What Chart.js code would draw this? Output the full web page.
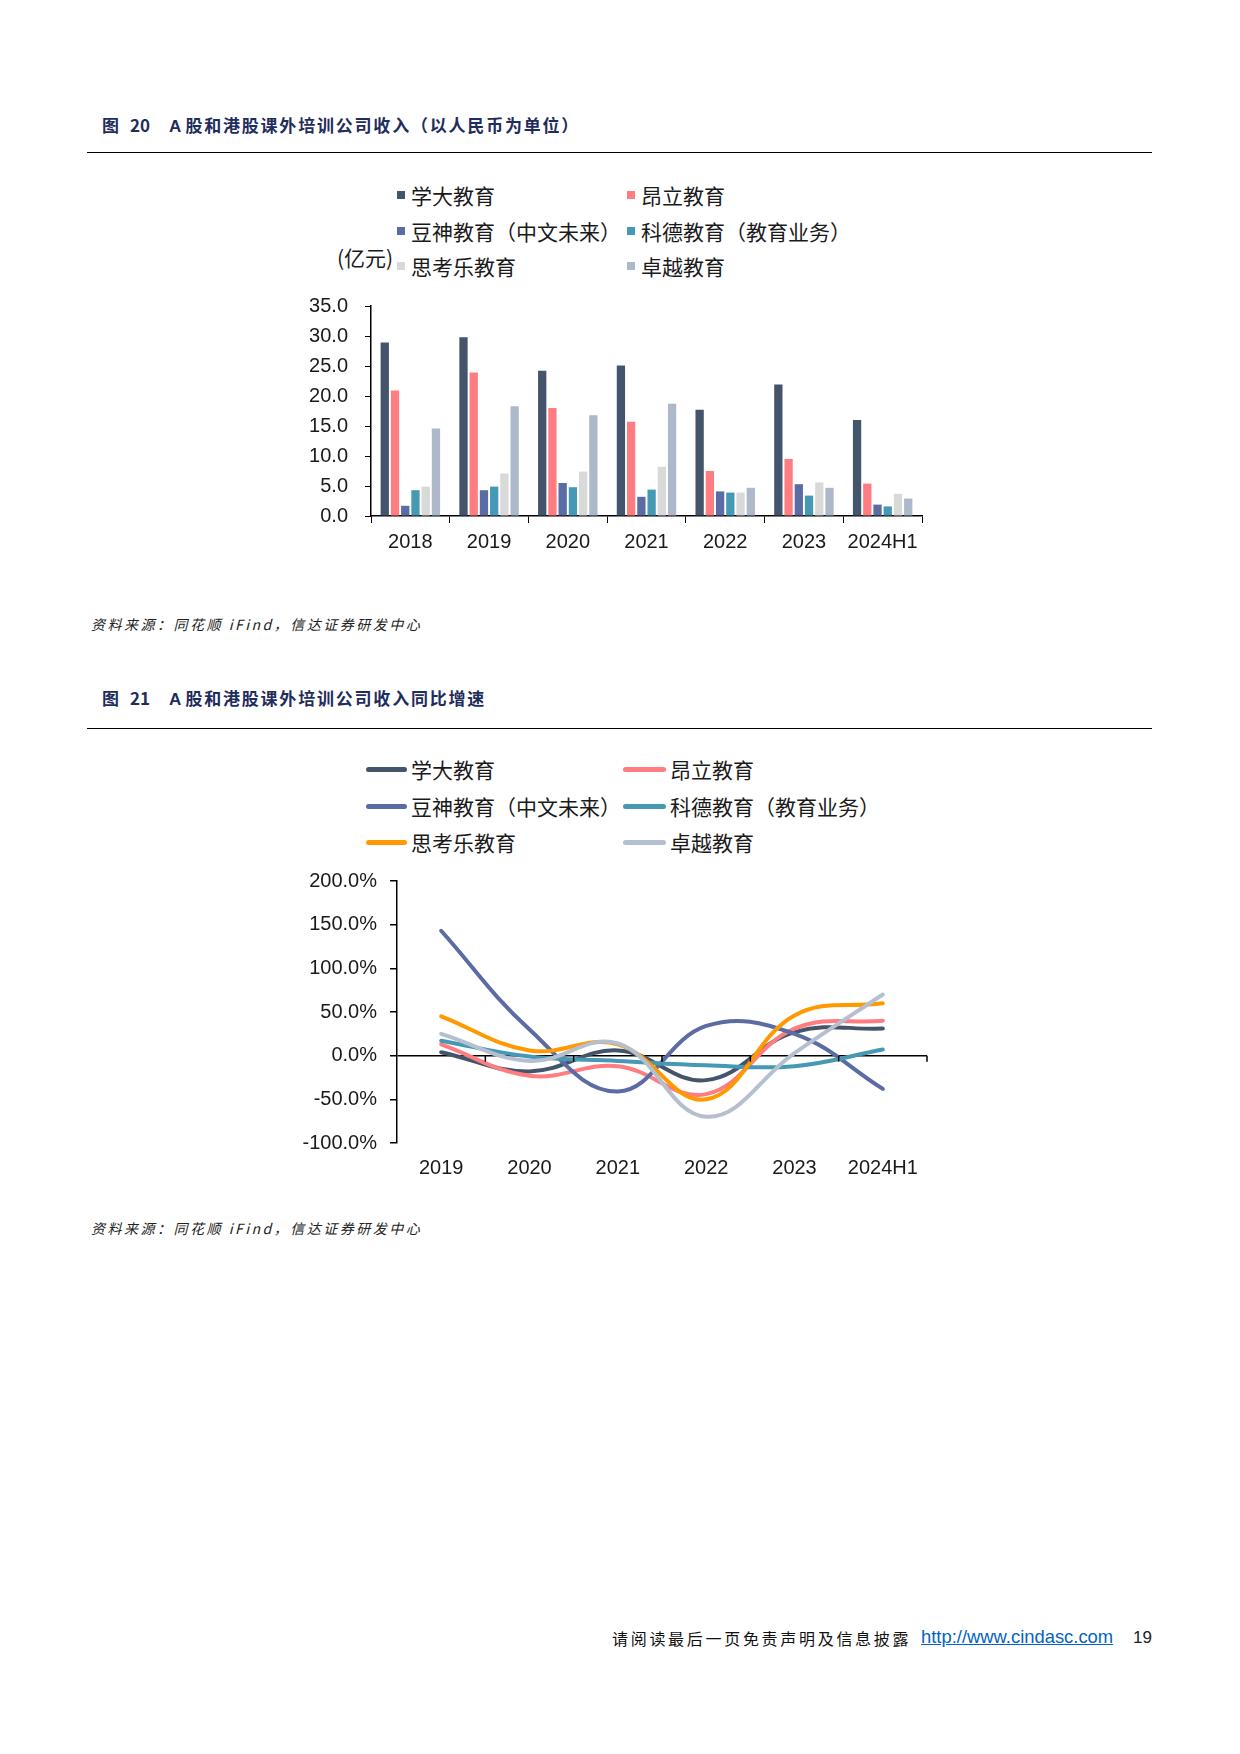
<!DOCTYPE html>
<html>
<head>
<meta charset="utf-8">
<script src="https://cdn.jsdelivr.net/npm/chart.js@4.4.1/dist/chart.umd.min.js"></script>
<style>
  body { margin: 0; background: #fff; }
  #page { position: relative; width: 1240px; height: 1754px; font-family: "Noto Sans CJK SC", sans-serif; color: #1a1a1a; }
  .t { position: absolute; font-weight: 700; color: #1f2d5c; font-size: 17px; line-height: 22px; }
  .t .num { font-family: "Liberation Sans", Arial, sans-serif; }
  .t .cjk { letter-spacing: 1.8px; }
  .rule { position: absolute; left: 87px; width: 1065px; height: 1px; background: #000; }
  .src { position: absolute; left: 91px; font-size: 14px; font-style: italic; letter-spacing: 2.5px; color: #222; line-height: 20px; }
  .leg { position: absolute; font-size: 21px; line-height: 24px; white-space: nowrap; transform: translateY(-50%); }
  .sq { position: absolute; width: 8px; height: 8px; }
  .ln { position: absolute; height: 5px; border-radius: 3px; }
  .box { position: absolute; }
  #foot { position: absolute; top: 1627px; left: 612px; font-size: 16px; letter-spacing: 2.7px; color: #111; line-height: 22px; }
  #link { position: absolute; top: 1626px; left: 921px; font-family: "Liberation Sans", Arial, sans-serif; font-size: 18.4px; color: #0563c1; text-decoration: underline; line-height: 22px; }
  #pno { position: absolute; top: 1627px; left: 1133px; font-family: "Liberation Sans", Arial, sans-serif; font-size: 17px; color: #222; line-height: 22px; }
</style>
</head>
<body>
<div id="page">
  <div class="t" style="top:114px;left:102px">图</div>
  <div class="t num" style="top:114px;left:130px">20</div>
  <div class="t" style="top:114px;left:169px"><span class="num">A </span><span class="cjk">股和港股课外培训公司收入（以人民币为单位）</span></div>
  <div class="rule" style="top:152px"></div>

  <div id="legend1"></div>
  <div class="leg" style="left:337px;top:257px">(亿元)</div>
  <div class="box" style="left:290px;top:290px;width:670px;height:270px"><canvas id="barChart" width="670" height="270"></canvas></div>
  <div class="src" style="top:614px">资料来源：同花顺 iFind，信达证券研发中心</div>

  <div class="t" style="top:687px;left:102px">图</div>
  <div class="t num" style="top:687px;left:130px">21</div>
  <div class="t" style="top:687px;left:169px"><span class="num">A </span><span class="cjk">股和港股课外培训公司收入同比增速</span></div>
  <div class="rule" style="top:728px"></div>

  <div id="legend2"></div>
  <div class="box" style="left:260px;top:860px;width:700px;height:330px"><canvas id="lineChart" width="700" height="330"></canvas></div>
  <div class="src" style="top:1218px">资料来源：同花顺 iFind，信达证券研发中心</div>

  <div id="foot">请阅读最后一页免责声明及信息披露</div>
  <div id="link">http://www.cindasc.com</div>
  <div id="pno">19</div>
</div>
<script>
// data
const years = ['2018', '2019', '2020', '2021', '2022', '2023', '2024H1'];
const growthYears = ['2019', '2020', '2021', '2022', '2023', '2024H1'];
const names = ['学大教育', '昂立教育', '豆神教育（中文未来）', '科德教育（教育业务）', '思考乐教育', '卓越教育'];

// revenue, 亿元
const xueda = [28.9, 29.8, 24.2, 25.1, 17.7, 21.9, 16.0];
const angli = [20.9, 23.9, 18.0, 15.7, 7.5, 9.5, 5.4];
const doushen = [1.7, 4.3, 5.5, 3.2, 4.1, 5.3, 1.9];
const kede = [4.3, 4.9, 4.8, 4.4, 3.9, 3.4, 1.6];
const sikaole = [4.9, 7.1, 7.4, 8.2, 3.9, 5.6, 3.7];
const zhuoyue = [14.6, 18.3, 16.8, 18.7, 4.7, 4.7, 2.9];

// YoY growth, %
const xuedaG = [4, -18, 6, -28, 27, 31];
const angliG = [13, -23, -12, -44, 31, 40];
const doushenG = [143, 30, -41, 34, 25, -38];
const kedeG = [17, -1, -6, -11, -12, 7];
const sikaoleG = [45, 6, 13, -50, 46, 60];
const zhuoyueG = [25, -6, 14, -70, 3, 70];

const barColors = ['#44546a', '#ff7c80', '#5b6ba3', '#4599b4', '#d9d9d9', '#adb9ca'];
const lineColors = ['#44546a', '#ff7c80', '#5b6ba3', '#4599b4', '#ff9900', '#b5bfd0'];

Chart.defaults.font.family = '"Liberation Sans", Arial, sans-serif';
Chart.defaults.font.size = 20;
Chart.defaults.color = '#1a1a1a';

// html legends (2 columns x 3 rows)
function buildLegend(id, colors, kind, rows, cols) {
    const el = document.getElementById(id);
    names.forEach((n, i) => {
        const c = cols[i % 2], y = rows[Math.floor(i / 2)];
        if (kind === 'sq') {
            el.insertAdjacentHTML('beforeend',
                `<div class="sq" style="left:${c.mark}px;top:${y - 4}px;background:${colors[i]}"></div>`);
        } else {
            el.insertAdjacentHTML('beforeend',
                `<div class="ln" style="left:${c.mark}px;width:${c.len}px;top:${y - 2.5}px;background:${colors[i]}"></div>`);
        }
        el.insertAdjacentHTML('beforeend', `<div class="leg" style="left:${c.text}px;top:${y}px">${n}</div>`);
    });
}
buildLegend('legend1', barColors, 'sq', [195, 231, 266], [{mark: 397, text: 411}, {mark: 627, text: 641}]);
buildLegend('legend2', lineColors, 'ln', [769, 806, 842], [{mark: 366, len: 41, text: 411}, {mark: 623, len: 43, text: 670}]);

const revenue = [xueda, angli, doushen, kede, sikaole, zhuoyue];
const growth = [xuedaG, angliG, doushenG, kedeG, sikaoleG, zhuoyueG];

// keep the plot top fixed by the layout padding only
function fixY(width) {
    return s => { s.width = width; s.paddingTop = 0; s.paddingBottom = 0; };
}

new Chart(document.getElementById('barChart'), {
    type: 'bar',
    data: {
        labels: years,
        datasets: revenue.map((d, i) => ({
            label: names[i],
            data: d,
            backgroundColor: barColors[i],
            borderWidth: 0,
            categoryPercentage: 0.78,
            barPercentage: 0.81
        }))
    },
    options: {
        responsive: false,
        animation: false,
        devicePixelRatio: 1,
        layout: { padding: { top: 16, right: 38, left: 0, bottom: 0 } },
        plugins: { legend: { display: false }, tooltip: { enabled: false } },
        scales: {
            x: {
                grid: { display: true, drawOnChartArea: false, tickLength: 7, color: '#000', offset: true },
                border: { color: '#000', width: 1.5 },
                ticks: { padding: 7 },
                afterFit: s => { s.height = 44; }
            },
            y: {
                min: 0, max: 35,
                grid: { drawOnChartArea: false, tickLength: 6, color: '#000' },
                border: { color: '#000', width: 1.5 },
                ticks: { stepSize: 5, padding: 17, callback: v => v.toFixed(1) },
                afterFit: fixY(81)
            }
        }
    }
});

// small category ticks on the zero line
const zeroTicks = {
    id: 'zeroTicks',
    afterDatasetsDraw(chart) {
        const { ctx, chartArea } = chart;
        const y0 = chart.scales.y.getPixelForValue(0);
        const n = growthYears.length;
        ctx.save();
        ctx.strokeStyle = '#000';
        ctx.lineWidth = 1.5;
        for (let i = 1; i <= n; i++) {
            const x = chartArea.left + i * (chartArea.right - chartArea.left) / n;
            ctx.beginPath();
            ctx.moveTo(x, y0);
            ctx.lineTo(x, y0 + 6);
            ctx.stroke();
        }
        ctx.restore();
    }
};

new Chart(document.getElementById('lineChart'), {
    type: 'line',
    data: {
        labels: growthYears,
        datasets: growth.map((d, i) => ({
            label: names[i],
            data: d,
            borderColor: lineColors[i],
            backgroundColor: lineColors[i],
            borderWidth: 4,
            borderCapStyle: 'round',
            pointRadius: 0,
            tension: 0.4,
            order: 6 - i
        }))
    },
    plugins: [zeroTicks],
    options: {
        responsive: false,
        animation: false,
        devicePixelRatio: 1,
        layout: { padding: { top: 21, right: 33, left: 0, bottom: 0 } },
        plugins: { legend: { display: false }, tooltip: { enabled: false } },
        scales: {
            x: {
                offset: true,
                grid: { display: false, drawTicks: false },
                border: { display: false },
                ticks: { padding: 13 },
                afterFit: s => { s.height = 47; }
            },
            y: {
                min: -100, max: 200,
                grid: {
                    tickLength: 7,
                    tickColor: '#000',
                    lineWidth: 1.5,
                    color: c => (c.tick && c.tick.value === 0 ? '#000' : 'rgba(0,0,0,0)')
                },
                border: { color: '#000', width: 1.5 },
                ticks: { stepSize: 50, padding: 13, callback: v => v.toFixed(1) + '%' },
                afterFit: fixY(137)
            }
        }
    }
});
</script>
</body>
</html>
